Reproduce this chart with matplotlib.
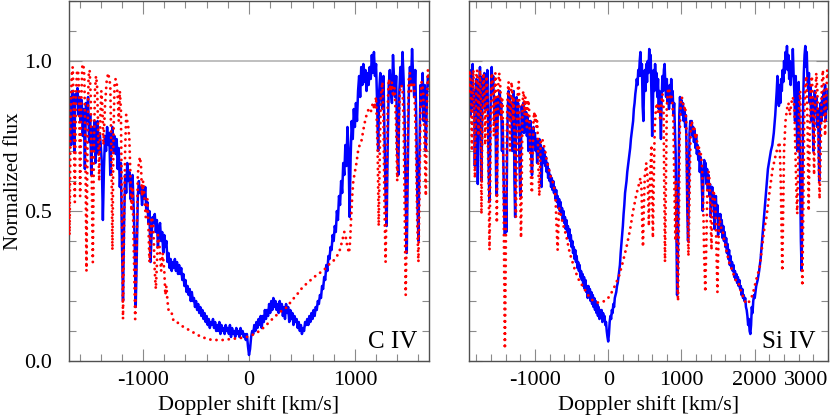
import matplotlib
matplotlib.use("Agg")
import numpy as np
import matplotlib.pyplot as plt
from matplotlib.ticker import MultipleLocator, FixedLocator

plt.rcParams["font.family"] = ["Liberation Serif", "DejaVu Serif"]

# ---- C IV : observed (blue) -------------------------------------------
civ_obs = [
    (-1700, 0.80), (-1690, 0.88), (-1680, 0.72), (-1670, 0.90), (-1660, 0.84), (-1650, 0.70),
    (-1640, 0.89), (-1630, 0.86), (-1620, 0.91), (-1610, 0.82), (-1600, 0.88), (-1590, 0.80),
    (-1580, 0.87), (-1570, 0.75), (-1560, 0.84), (-1550, 0.64), (-1540, 0.86), (-1530, 0.80),
    (-1520, 0.88), (-1510, 0.73), (-1500, 0.82), (-1490, 0.62), (-1480, 0.78), (-1470, 0.70),
    (-1460, 0.80), (-1450, 0.66), (-1440, 0.74), (-1430, 0.80), (-1420, 0.69), (-1410, 0.76),
    (-1400, 0.72), (-1390, 0.66), (-1380, 0.47), (-1370, 0.64), (-1360, 0.75), (-1350, 0.70),
    (-1340, 0.78), (-1330, 0.72), (-1320, 0.76), (-1310, 0.62), (-1300, 0.74), (-1290, 0.78),
    (-1280, 0.70), (-1270, 0.75), (-1260, 0.69), (-1250, 0.74), (-1240, 0.64), (-1230, 0.71),
    (-1220, 0.58), (-1210, 0.66), (-1200, 0.40), (-1190, 0.20), (-1180, 0.45), (-1170, 0.62),
    (-1160, 0.56), (-1150, 0.66), (-1140, 0.60), (-1130, 0.63), (-1120, 0.54), (-1110, 0.60),
    (-1100, 0.62), (-1090, 0.52), (-1080, 0.40), (-1070, 0.18), (-1060, 0.35), (-1050, 0.55),
    (-1040, 0.60), (-1030, 0.56), (-1020, 0.58), (-1010, 0.52), (-1000, 0.57), (-990, 0.54),
    (-980, 0.58), (-970, 0.50), (-960, 0.53), (-950, 0.46), (-940, 0.50), (-930, 0.33),
    (-920, 0.42), (-910, 0.48), (-900, 0.46), (-890, 0.49), (-880, 0.43), (-870, 0.47),
    (-860, 0.38), (-850, 0.44), (-840, 0.46), (-830, 0.40), (-820, 0.43), (-810, 0.36),
    (-800, 0.42), (-790, 0.38), (-780, 0.40), (-770, 0.33), (-760, 0.36), (-750, 0.31),
    (-740, 0.34), (-730, 0.30), (-720, 0.33), (-710, 0.31), (-700, 0.34), (-690, 0.30),
    (-680, 0.33), (-670, 0.29), (-660, 0.32), (-650, 0.29), (-640, 0.31), (-630, 0.27),
    (-620, 0.29), (-610, 0.25), (-600, 0.27), (-590, 0.23), (-580, 0.25), (-570, 0.22),
    (-560, 0.24), (-550, 0.20), (-540, 0.23), (-530, 0.20), (-520, 0.21), (-510, 0.18),
    (-500, 0.20), (-490, 0.17), (-480, 0.19), (-470, 0.16), (-460, 0.18), (-450, 0.15),
    (-440, 0.17), (-430, 0.14), (-420, 0.16), (-410, 0.13), (-400, 0.15), (-390, 0.12),
    (-380, 0.14), (-370, 0.11), (-360, 0.13), (-350, 0.12), (-340, 0.14), (-330, 0.11),
    (-320, 0.13), (-310, 0.10), (-300, 0.12), (-290, 0.10), (-280, 0.13), (-270, 0.09),
    (-260, 0.12), (-250, 0.10), (-240, 0.11), (-230, 0.09), (-220, 0.12), (-210, 0.10),
    (-200, 0.11), (-190, 0.09), (-180, 0.12), (-170, 0.08), (-160, 0.11), (-150, 0.09),
    (-140, 0.10), (-130, 0.08), (-120, 0.11), (-110, 0.09), (-100, 0.10), (-90, 0.08),
    (-80, 0.11), (-70, 0.09), (-60, 0.10), (-50, 0.08), (-40, 0.09), (-30, 0.07),
    (-20, 0.09), (-10, 0.05), (0, 0.02), (10, 0.04), (20, 0.08), (30, 0.10),
    (40, 0.09), (50, 0.12), (60, 0.10), (70, 0.13), (80, 0.11), (90, 0.14),
    (100, 0.12), (110, 0.15), (120, 0.11), (130, 0.15), (140, 0.13), (150, 0.17),
    (160, 0.14), (170, 0.17), (180, 0.15), (190, 0.19), (200, 0.16), (210, 0.20),
    (220, 0.17), (230, 0.21), (240, 0.18), (250, 0.20), (260, 0.17), (270, 0.19),
    (280, 0.16), (290, 0.20), (300, 0.17), (310, 0.19), (320, 0.15), (330, 0.18),
    (340, 0.14), (350, 0.19), (360, 0.16), (370, 0.18), (380, 0.13), (390, 0.17),
    (400, 0.14), (410, 0.16), (420, 0.12), (430, 0.15), (440, 0.13), (450, 0.14),
    (460, 0.11), (470, 0.13), (480, 0.10), (490, 0.12), (500, 0.09), (510, 0.11),
    (520, 0.10), (530, 0.13), (540, 0.12), (550, 0.14), (560, 0.12), (570, 0.15),
    (580, 0.13), (590, 0.16), (600, 0.14), (610, 0.17), (620, 0.15), (630, 0.18),
    (640, 0.17), (650, 0.20), (660, 0.19), (670, 0.22), (680, 0.21), (690, 0.25),
    (700, 0.24), (710, 0.28), (720, 0.27), (730, 0.32), (740, 0.30), (750, 0.35),
    (760, 0.34), (770, 0.38), (780, 0.37), (790, 0.42), (800, 0.40), (810, 0.45),
    (820, 0.43), (830, 0.50), (840, 0.47), (850, 0.55), (860, 0.52), (870, 0.60),
    (880, 0.56), (890, 0.66), (900, 0.62), (910, 0.72), (920, 0.65), (930, 0.78),
    (940, 0.70), (950, 0.48), (960, 0.68), (970, 0.80), (980, 0.74), (990, 0.84),
    (1000, 0.78), (1010, 0.86), (1020, 0.80), (1030, 0.90), (1040, 0.95), (1050, 0.88),
    (1060, 0.98), (1070, 0.92), (1080, 0.99), (1090, 0.93), (1100, 0.97), (1110, 0.90),
    (1120, 0.96), (1130, 0.92), (1140, 0.98), (1150, 0.94), (1160, 1.02), (1170, 0.96),
    (1180, 1.03), (1190, 0.95), (1200, 0.99), (1210, 0.86), (1220, 0.70), (1230, 0.90),
    (1240, 0.96), (1250, 0.88), (1260, 0.84), (1270, 0.95), (1280, 0.75), (1290, 0.55),
    (1300, 0.45), (1310, 0.72), (1320, 0.92), (1330, 0.97), (1340, 0.90), (1350, 0.86),
    (1360, 1.02), (1370, 0.94), (1380, 0.88), (1390, 0.95), (1400, 0.70), (1410, 0.62),
    (1420, 0.90), (1430, 0.98), (1440, 0.92), (1450, 1.03), (1460, 0.94), (1470, 0.80),
    (1480, 0.55), (1490, 0.36), (1500, 0.65), (1510, 0.90), (1520, 0.98), (1530, 0.92),
    (1540, 1.04), (1550, 0.95), (1560, 0.88), (1570, 0.97), (1580, 0.80), (1590, 0.55),
    (1600, 0.40), (1610, 0.70), (1620, 0.92), (1630, 0.85), (1640, 0.96), (1650, 0.80),
    (1660, 0.92), (1670, 0.70), (1680, 0.88), (1690, 0.95), (1700, 0.92),
]

# ---- C IV : model (red dotted) ----------------------------------------
civ_mod = [
    (-1700, 0.60), (-1695, 0.42), (-1685, 0.80), (-1675, 0.95), (-1665, 0.98), (-1655, 0.85),
    (-1645, 0.53), (-1635, 0.88), (-1625, 0.96), (-1615, 0.97), (-1605, 0.90), (-1595, 0.55),
    (-1585, 0.85), (-1575, 0.98), (-1565, 0.99), (-1555, 0.95), (-1545, 0.70), (-1535, 0.30),
    (-1525, 0.75), (-1515, 0.95), (-1505, 0.97), (-1495, 0.88), (-1485, 0.60), (-1475, 0.33),
    (-1465, 0.70), (-1455, 0.90), (-1445, 0.95), (-1435, 0.92), (-1425, 0.78), (-1415, 0.60),
    (-1405, 0.80), (-1395, 0.90), (-1385, 0.85), (-1375, 0.72), (-1360, 0.85), (-1345, 0.93),
    (-1330, 0.96), (-1320, 0.94), (-1310, 0.92), (-1300, 0.70), (-1290, 0.37), (-1280, 0.75),
    (-1270, 0.92), (-1260, 0.94), (-1250, 0.93), (-1240, 0.88), (-1230, 0.80), (-1220, 0.90),
    (-1210, 0.84), (-1200, 0.50), (-1190, 0.14), (-1180, 0.45), (-1170, 0.70), (-1160, 0.82),
    (-1150, 0.80), (-1140, 0.78), (-1130, 0.74), (-1120, 0.62), (-1110, 0.50), (-1100, 0.58),
    (-1090, 0.40), (-1075, 0.14), (-1060, 0.40), (-1050, 0.62), (-1040, 0.66), (-1030, 0.68),
    (-1020, 0.65), (-1010, 0.55), (-1000, 0.60), (-990, 0.56), (-975, 0.48), (-960, 0.54),
    (-950, 0.45), (-940, 0.33), (-930, 0.42), (-920, 0.48), (-905, 0.46), (-890, 0.30),
    (-880, 0.24), (-870, 0.32), (-860, 0.42), (-845, 0.38), (-830, 0.30), (-815, 0.36),
    (-800, 0.30), (-790, 0.22), (-780, 0.25), (-770, 0.20), (-760, 0.17), (-745, 0.16),
    (-730, 0.16), (-720, 0.14), (-700, 0.13), (-680, 0.13), (-650, 0.12), (-600, 0.11),
    (-550, 0.10), (-500, 0.09), (-450, 0.08), (-400, 0.075), (-350, 0.07), (-300, 0.07),
    (-250, 0.07), (-200, 0.072), (-150, 0.074), (-100, 0.076), (-50, 0.078), (0, 0.082),
    (50, 0.09), (100, 0.10), (150, 0.115), (200, 0.133), (250, 0.15), (300, 0.165),
    (360, 0.18), (400, 0.20), (450, 0.22), (500, 0.243), (550, 0.26), (600, 0.275),
    (650, 0.29), (700, 0.30), (750, 0.32), (800, 0.335), (850, 0.36), (880, 0.40),
    (900, 0.43), (915, 0.41), (930, 0.38), (945, 0.36), (955, 0.40), (965, 0.48),
    (975, 0.55), (985, 0.60), (1000, 0.63), (1015, 0.66), (1030, 0.70), (1045, 0.72),
    (1060, 0.73), (1075, 0.76), (1090, 0.79), (1110, 0.82), (1130, 0.84), (1150, 0.83),
    (1170, 0.86), (1185, 0.84), (1200, 0.88), (1215, 0.70), (1225, 0.45), (1235, 0.70),
    (1245, 0.88), (1260, 0.93), (1270, 0.80), (1280, 0.50), (1290, 0.33), (1300, 0.55),
    (1310, 0.85), (1320, 0.94), (1330, 0.92), (1340, 0.90), (1350, 0.93), (1360, 0.88),
    (1375, 0.91), (1390, 0.78), (1400, 0.60), (1410, 0.72), (1425, 0.90), (1440, 0.92),
    (1450, 0.90), (1460, 0.80), (1470, 0.50), (1480, 0.22), (1490, 0.45), (1500, 0.80),
    (1510, 0.95), (1520, 0.96), (1530, 0.90), (1545, 0.93), (1560, 0.92), (1575, 0.75),
    (1590, 0.45), (1600, 0.33), (1610, 0.55), (1620, 0.85), (1630, 0.93), (1645, 0.90),
    (1660, 0.70), (1670, 0.55), (1680, 0.85), (1690, 0.97), (1700, 0.93),
]

# ---- Si IV : observed (blue) ------------------------------------------
siiv_obs = [
    (-1900, 0.85), (-1890, 0.95), (-1880, 0.82), (-1870, 0.97), (-1860, 0.88), (-1850, 0.99),
    (-1840, 0.84), (-1830, 0.90), (-1820, 0.65), (-1810, 0.88), (-1800, 0.94), (-1790, 0.80),
    (-1780, 0.59), (-1770, 0.75), (-1760, 0.92), (-1750, 0.98), (-1740, 0.86), (-1730, 0.60),
    (-1720, 0.82), (-1710, 0.95), (-1700, 0.90), (-1690, 0.96), (-1680, 0.84), (-1670, 0.93),
    (-1660, 0.88), (-1650, 0.97), (-1640, 0.80), (-1630, 0.62), (-1620, 0.53), (-1610, 0.78),
    (-1600, 0.92), (-1590, 0.98), (-1580, 0.90), (-1570, 0.95), (-1560, 0.86), (-1550, 0.80),
    (-1540, 0.88), (-1530, 0.60), (-1520, 0.55), (-1510, 0.80), (-1500, 0.88), (-1490, 0.84),
    (-1480, 0.90), (-1470, 0.82), (-1460, 0.86), (-1450, 0.70), (-1440, 0.80), (-1430, 0.65),
    (-1420, 0.50), (-1410, 0.42), (-1400, 0.55), (-1390, 0.43), (-1380, 0.70), (-1370, 0.85),
    (-1360, 0.90), (-1350, 0.84), (-1340, 0.88), (-1330, 0.80), (-1320, 0.86), (-1310, 0.70),
    (-1300, 0.82), (-1290, 0.90), (-1280, 0.60), (-1270, 0.48), (-1260, 0.75), (-1250, 0.88),
    (-1240, 0.82), (-1230, 0.86), (-1220, 0.78), (-1210, 0.65), (-1200, 0.55), (-1190, 0.72),
    (-1180, 0.85), (-1170, 0.80), (-1160, 0.86), (-1150, 0.76), (-1140, 0.84), (-1130, 0.80),
    (-1120, 0.83), (-1110, 0.75), (-1100, 0.82), (-1090, 0.70), (-1080, 0.80), (-1070, 0.76),
    (-1060, 0.80), (-1050, 0.68), (-1040, 0.62), (-1030, 0.72), (-1020, 0.78), (-1010, 0.73),
    (-1000, 0.76), (-990, 0.70), (-980, 0.74), (-970, 0.66), (-960, 0.72), (-950, 0.70),
    (-940, 0.74), (-930, 0.68), (-920, 0.72), (-910, 0.58), (-900, 0.68), (-890, 0.71),
    (-880, 0.66), (-870, 0.70), (-860, 0.65), (-850, 0.68), (-840, 0.63), (-830, 0.66),
    (-820, 0.61), (-810, 0.64), (-800, 0.60), (-790, 0.62), (-780, 0.58), (-770, 0.61),
    (-760, 0.57), (-750, 0.60), (-740, 0.56), (-730, 0.58), (-720, 0.54), (-710, 0.57),
    (-700, 0.53), (-690, 0.55), (-680, 0.51), (-670, 0.54), (-660, 0.50), (-650, 0.53),
    (-640, 0.49), (-630, 0.51), (-620, 0.47), (-610, 0.50), (-600, 0.46), (-590, 0.48),
    (-580, 0.44), (-570, 0.47), (-560, 0.43), (-550, 0.45), (-540, 0.41), (-530, 0.44),
    (-520, 0.40), (-510, 0.42), (-500, 0.38), (-490, 0.40), (-480, 0.36), (-470, 0.38),
    (-460, 0.34), (-450, 0.37), (-440, 0.33), (-430, 0.35), (-420, 0.31), (-410, 0.33),
    (-400, 0.30), (-390, 0.32), (-380, 0.28), (-370, 0.30), (-360, 0.27), (-350, 0.29),
    (-340, 0.25), (-330, 0.28), (-320, 0.24), (-310, 0.27), (-300, 0.23), (-290, 0.25),
    (-280, 0.21), (-270, 0.25), (-260, 0.22), (-250, 0.24), (-240, 0.20), (-230, 0.23),
    (-220, 0.19), (-210, 0.22), (-200, 0.18), (-190, 0.21), (-180, 0.17), (-170, 0.20),
    (-160, 0.16), (-150, 0.19), (-140, 0.15), (-130, 0.18), (-120, 0.14), (-110, 0.17),
    (-100, 0.15), (-90, 0.17), (-80, 0.13), (-70, 0.16), (-60, 0.14), (-50, 0.15),
    (-40, 0.12), (-30, 0.13), (-20, 0.10), (-10, 0.08), (0, 0.065), (10, 0.09),
    (20, 0.13), (30, 0.15), (40, 0.14), (50, 0.17), (60, 0.16), (70, 0.19),
    (80, 0.18), (90, 0.21), (100, 0.22), (110, 0.23), (120, 0.25), (130, 0.26),
    (140, 0.28), (150, 0.30), (160, 0.32), (170, 0.36), (180, 0.39), (190, 0.42),
    (200, 0.45), (210, 0.49), (220, 0.52), (230, 0.56), (240, 0.58), (250, 0.60),
    (260, 0.63), (270, 0.65), (280, 0.67), (290, 0.69), (300, 0.71), (310, 0.74),
    (320, 0.76), (330, 0.78), (340, 0.80), (350, 0.84), (360, 0.86), (370, 0.89),
    (380, 0.91), (390, 0.94), (400, 0.92), (410, 0.97), (420, 0.95), (430, 1.00),
    (440, 1.03), (450, 0.95), (460, 0.99), (470, 0.85), (480, 0.80), (490, 0.92),
    (500, 0.97), (510, 0.90), (520, 0.99), (530, 0.93), (540, 1.00), (550, 0.96),
    (560, 1.04), (570, 0.97), (580, 1.02), (590, 0.88), (600, 0.75), (610, 0.85),
    (620, 0.97), (630, 0.90), (640, 0.99), (650, 0.93), (660, 0.96), (670, 0.88),
    (680, 0.94), (690, 0.84), (700, 0.90), (710, 0.82), (720, 0.74), (730, 0.88),
    (740, 0.95), (750, 0.90), (760, 0.97), (770, 0.99), (780, 0.92), (790, 0.88),
    (800, 0.94), (810, 0.86), (820, 0.90), (830, 0.84), (840, 0.92), (850, 0.86),
    (860, 0.94), (870, 0.88), (880, 0.90), (890, 0.82), (900, 0.86), (910, 0.78),
    (920, 0.70), (930, 0.45), (940, 0.22), (950, 0.30), (960, 0.60), (970, 0.82),
    (980, 0.88), (990, 0.84), (1000, 0.87), (1010, 0.82), (1020, 0.86), (1030, 0.80),
    (1040, 0.84), (1050, 0.78), (1060, 0.82), (1070, 0.70), (1080, 0.50), (1090, 0.40),
    (1100, 0.55), (1110, 0.76), (1120, 0.80), (1130, 0.77), (1140, 0.80), (1150, 0.75),
    (1160, 0.78), (1170, 0.73), (1180, 0.77), (1190, 0.71), (1200, 0.75), (1210, 0.69),
    (1220, 0.72), (1230, 0.67), (1240, 0.70), (1250, 0.63), (1260, 0.68), (1270, 0.64),
    (1280, 0.57), (1290, 0.50), (1300, 0.62), (1310, 0.67), (1320, 0.62), (1330, 0.66),
    (1340, 0.59), (1350, 0.64), (1360, 0.57), (1370, 0.62), (1380, 0.55), (1390, 0.59),
    (1400, 0.48), (1410, 0.54), (1420, 0.58), (1430, 0.52), (1440, 0.56), (1450, 0.44),
    (1460, 0.52), (1470, 0.55), (1480, 0.48), (1490, 0.52), (1500, 0.42), (1510, 0.49),
    (1520, 0.46), (1530, 0.49), (1540, 0.43), (1550, 0.47), (1560, 0.41), (1570, 0.45),
    (1580, 0.40), (1590, 0.43), (1600, 0.38), (1610, 0.41), (1620, 0.36), (1630, 0.39),
    (1640, 0.34), (1650, 0.37), (1660, 0.32), (1670, 0.35), (1680, 0.31), (1690, 0.33),
    (1700, 0.30), (1710, 0.32), (1720, 0.28), (1730, 0.30), (1740, 0.27), (1750, 0.29),
    (1760, 0.26), (1770, 0.28), (1780, 0.25), (1790, 0.27), (1800, 0.24), (1810, 0.25),
    (1820, 0.22), (1830, 0.24), (1840, 0.21), (1850, 0.22), (1860, 0.20), (1870, 0.21),
    (1880, 0.18), (1890, 0.17), (1900, 0.15), (1910, 0.12), (1920, 0.14), (1930, 0.10),
    (1940, 0.09), (1950, 0.12), (1960, 0.18), (1970, 0.16), (1980, 0.20), (1990, 0.22),
    (2000, 0.21), (2020, 0.25), (2040, 0.27), (2060, 0.30), (2080, 0.34), (2100, 0.40),
    (2120, 0.46), (2140, 0.52), (2160, 0.58), (2180, 0.64), (2200, 0.67), (2220, 0.70),
    (2240, 0.72), (2260, 0.76), (2280, 0.82), (2300, 0.90), (2310, 0.95), (2320, 0.88),
    (2330, 0.85), (2340, 0.92), (2350, 0.86), (2360, 0.94), (2370, 0.90), (2380, 0.97),
    (2390, 0.93), (2400, 1.00), (2410, 0.96), (2420, 1.03), (2430, 0.98), (2440, 1.05),
    (2450, 0.97), (2460, 1.02), (2470, 0.94), (2480, 1.00), (2490, 0.92), (2500, 0.99),
    (2510, 0.95), (2520, 1.04), (2530, 0.96), (2540, 0.90), (2550, 0.80), (2560, 0.95),
    (2570, 0.85), (2580, 0.70), (2590, 0.88), (2600, 0.93), (2610, 0.80), (2620, 0.60),
    (2630, 0.40), (2640, 0.30), (2650, 0.55), (2660, 0.85), (2670, 0.96), (2680, 1.02),
    (2690, 1.05), (2700, 0.98), (2710, 1.03), (2720, 0.94), (2730, 0.90), (2740, 0.96),
    (2750, 0.86), (2760, 0.92), (2770, 0.80), (2780, 0.88), (2790, 0.84), (2800, 0.70),
    (2810, 0.85), (2820, 0.90), (2830, 0.83), (2840, 0.88), (2850, 0.78), (2860, 0.84),
    (2870, 0.76), (2880, 0.60), (2890, 0.80), (2900, 0.86), (2910, 0.80), (2920, 0.88),
    (2930, 0.82), (2940, 0.90), (2950, 0.86), (2960, 0.92), (2970, 0.80), (2980, 0.88),
    (2990, 0.84), (3000, 0.90),
]

# ---- Si IV : model (red dotted) ---------------------------------------
siiv_mod = [
    (-1900, 0.90), (-1890, 0.97), (-1880, 0.95), (-1870, 0.85), (-1860, 0.70), (-1850, 0.90),
    (-1840, 0.97), (-1830, 0.85), (-1820, 0.61), (-1810, 0.80), (-1800, 0.95), (-1790, 0.97),
    (-1780, 0.92), (-1770, 0.75), (-1760, 0.88), (-1750, 0.97), (-1740, 0.90), (-1730, 0.49),
    (-1720, 0.75), (-1710, 0.92), (-1700, 0.96), (-1690, 0.90), (-1680, 0.72), (-1670, 0.86),
    (-1660, 0.95), (-1650, 0.90), (-1640, 0.70), (-1630, 0.55), (-1620, 0.37), (-1610, 0.60),
    (-1600, 0.88), (-1590, 0.96), (-1580, 0.94), (-1570, 0.88), (-1560, 0.75), (-1550, 0.90),
    (-1540, 0.96), (-1530, 0.85), (-1520, 0.46), (-1510, 0.75), (-1500, 0.92), (-1490, 0.96),
    (-1480, 0.95), (-1470, 0.90), (-1460, 0.80), (-1450, 0.88), (-1440, 0.85), (-1430, 0.60),
    (-1420, 0.30), (-1410, 0.04), (-1400, 0.30), (-1390, 0.62), (-1380, 0.82), (-1370, 0.90),
    (-1360, 0.93), (-1350, 0.88), (-1340, 0.70), (-1330, 0.85), (-1320, 0.93), (-1310, 0.90),
    (-1300, 0.80), (-1290, 0.88), (-1280, 0.75), (-1270, 0.60), (-1260, 0.48), (-1250, 0.65),
    (-1240, 0.85), (-1230, 0.92), (-1220, 0.93), (-1210, 0.80), (-1200, 0.55), (-1190, 0.41),
    (-1180, 0.60), (-1170, 0.84), (-1160, 0.90), (-1150, 0.88), (-1140, 0.82), (-1130, 0.88),
    (-1120, 0.86), (-1110, 0.78), (-1100, 0.85), (-1090, 0.87), (-1080, 0.84), (-1070, 0.75),
    (-1060, 0.65), (-1050, 0.58), (-1040, 0.56), (-1030, 0.68), (-1020, 0.80), (-1010, 0.83),
    (-1000, 0.80), (-990, 0.82), (-980, 0.78), (-970, 0.80), (-960, 0.74), (-950, 0.62),
    (-940, 0.55), (-930, 0.65), (-920, 0.74), (-900, 0.74), (-880, 0.72), (-860, 0.70),
    (-840, 0.67), (-820, 0.65), (-800, 0.63), (-780, 0.61), (-760, 0.60), (-740, 0.58),
    (-720, 0.55), (-705, 0.45), (-690, 0.37), (-680, 0.45), (-670, 0.51), (-650, 0.49),
    (-620, 0.46), (-600, 0.44), (-575, 0.42), (-550, 0.39), (-525, 0.36), (-500, 0.34),
    (-450, 0.30), (-400, 0.27), (-350, 0.25), (-300, 0.23), (-250, 0.21), (-200, 0.20),
    (-150, 0.195), (-100, 0.195), (-50, 0.20), (0, 0.21), (50, 0.23), (100, 0.255),
    (150, 0.285), (200, 0.33), (250, 0.38), (300, 0.44), (340, 0.50), (380, 0.55),
    (420, 0.59), (440, 0.61), (455, 0.57), (465, 0.45), (475, 0.38), (485, 0.50),
    (500, 0.62), (520, 0.66), (540, 0.60), (555, 0.45), (570, 0.60), (590, 0.72),
    (600, 0.55), (610, 0.41), (620, 0.58), (635, 0.78), (650, 0.84), (665, 0.86),
    (680, 0.83), (695, 0.85), (710, 0.80), (725, 0.86), (740, 0.89), (755, 0.85),
    (765, 0.60), (775, 0.33), (785, 0.55), (800, 0.85), (815, 0.90), (830, 0.91),
    (845, 0.88), (860, 0.89), (875, 0.86), (890, 0.80), (905, 0.55), (917, 0.40),
    (925, 0.60), (935, 0.45), (945, 0.25), (953, 0.20), (962, 0.40), (975, 0.75),
    (990, 0.86), (1005, 0.88), (1020, 0.86), (1035, 0.84), (1050, 0.85), (1065, 0.80),
    (1080, 0.55), (1095, 0.35), (1110, 0.55), (1125, 0.78), (1140, 0.80), (1160, 0.77),
    (1175, 0.78), (1190, 0.74), (1205, 0.76), (1220, 0.70), (1235, 0.72), (1250, 0.68),
    (1265, 0.69), (1280, 0.65), (1295, 0.55), (1310, 0.35), (1325, 0.23), (1340, 0.40),
    (1355, 0.60), (1370, 0.63), (1385, 0.60), (1400, 0.45), (1410, 0.37), (1420, 0.52),
    (1435, 0.57), (1450, 0.55), (1465, 0.50), (1480, 0.35), (1491, 0.23), (1500, 0.35),
    (1515, 0.48), (1530, 0.46), (1545, 0.44), (1560, 0.44), (1575, 0.41), (1590, 0.40),
    (1605, 0.38), (1620, 0.36), (1640, 0.34), (1660, 0.32), (1680, 0.31), (1700, 0.30),
    (1720, 0.28), (1740, 0.27), (1760, 0.26), (1780, 0.26), (1800, 0.24), (1833, 0.22),
    (1860, 0.20), (1900, 0.19), (1930, 0.20), (1970, 0.22), (2000, 0.25), (2030, 0.28),
    (2066, 0.31), (2100, 0.38), (2130, 0.44), (2161, 0.48), (2200, 0.56), (2244, 0.64),
    (2280, 0.68), (2310, 0.71), (2339, 0.73), (2355, 0.60), (2370, 0.40), (2376, 0.30),
    (2385, 0.45), (2400, 0.70), (2420, 0.80), (2440, 0.84), (2460, 0.86), (2480, 0.82),
    (2500, 0.86), (2520, 0.88), (2540, 0.85), (2555, 0.70), (2570, 0.55), (2580, 0.49),
    (2590, 0.62), (2605, 0.85), (2620, 0.90), (2635, 0.70), (2649, 0.25), (2660, 0.45),
    (2675, 0.80), (2690, 0.92), (2705, 0.95), (2720, 0.80), (2736, 0.50), (2750, 0.75),
    (2765, 0.92), (2780, 0.95), (2795, 0.85), (2810, 0.62), (2825, 0.85), (2840, 0.96),
    (2855, 0.90), (2870, 0.70), (2885, 0.54), (2900, 0.70), (2915, 0.92), (2930, 0.97),
    (2945, 0.90), (2960, 0.75), (2975, 0.88), (2990, 0.97), (3000, 0.95),
]

panels = [
    ("C IV", civ_obs, civ_mod, (-1700, 1700), [-1000, 0, 1000]),
    ("Si IV", siiv_obs, siiv_mod, (-1900, 3000), [-1000, 0, 1000, 2000, 3000]),
]

BLUE = "#0000ff"
RED = "#ff0000"
FS = 16

fig = plt.figure(figsize=(8.3, 4.19), dpi=100)
axes = [fig.add_axes([69/830, 1 - 361/419, 360/830, 360/419]),
        fig.add_axes([469/830, 1 - 361/419, 359/830, 360/419])]

for i, (ax, (name, obs, mod, xlim, majors)) in enumerate(zip(axes, panels)):
    ov, of = zip(*obs)
    mv, mf = zip(*mod)
    ax.axhline(1.0, color="#b4b4b4", lw=1.2, zorder=1)
    ax.plot(ov, of, color=BLUE, lw=1.8, zorder=2)
    ax.plot(mv, mf, color=RED, lw=2.1, linestyle=(0, (0.01, 2.1)),
            dash_capstyle="round", zorder=3)

    ax.set_xlim(*xlim)
    ax.set_ylim(0, 1.2)
    ax.xaxis.set_major_locator(FixedLocator(majors))
    ax.xaxis.set_minor_locator(MultipleLocator(200))
    ax.yaxis.set_major_locator(FixedLocator([0.0, 0.5, 1.0]))
    ax.yaxis.set_minor_locator(MultipleLocator(0.1))
    ax.tick_params(which="both", direction="in", top=True, right=True,
                   color="#8a8a8a", width=0.8, labelsize=FS)
    ax.tick_params(which="major", length=9)
    ax.tick_params(which="minor", length=5)
    ax.tick_params(axis="x", pad=7)
    ax.tick_params(axis="y", pad=12)
    ax.set_xticklabels([f"{m:d}" for m in majors])
    for sp in ax.spines.values():
        sp.set_color("#505050")
        sp.set_linewidth(1.0)

    ax.set_xlabel("Doppler shift [km/s]", fontsize=FS)
    ax.xaxis.set_label_coords(0.5, -0.095)
    ax.text(0.966, 0.036, name, transform=ax.transAxes, ha="right",
            va="baseline", fontsize=18)

    if i == 0:
        ax.set_yticklabels(["0.0", "0.5", "1.0"])
        ax.set_ylabel("Normalized flux", fontsize=15)
        ax.yaxis.set_label_coords(-0.127, 0.5)
    else:
        ax.set_yticklabels([])
        # last label sits inside the axis end
        ax.get_xticklabels()[-1].set_horizontalalignment("right")

fig.savefig("out.png", dpi=100)
